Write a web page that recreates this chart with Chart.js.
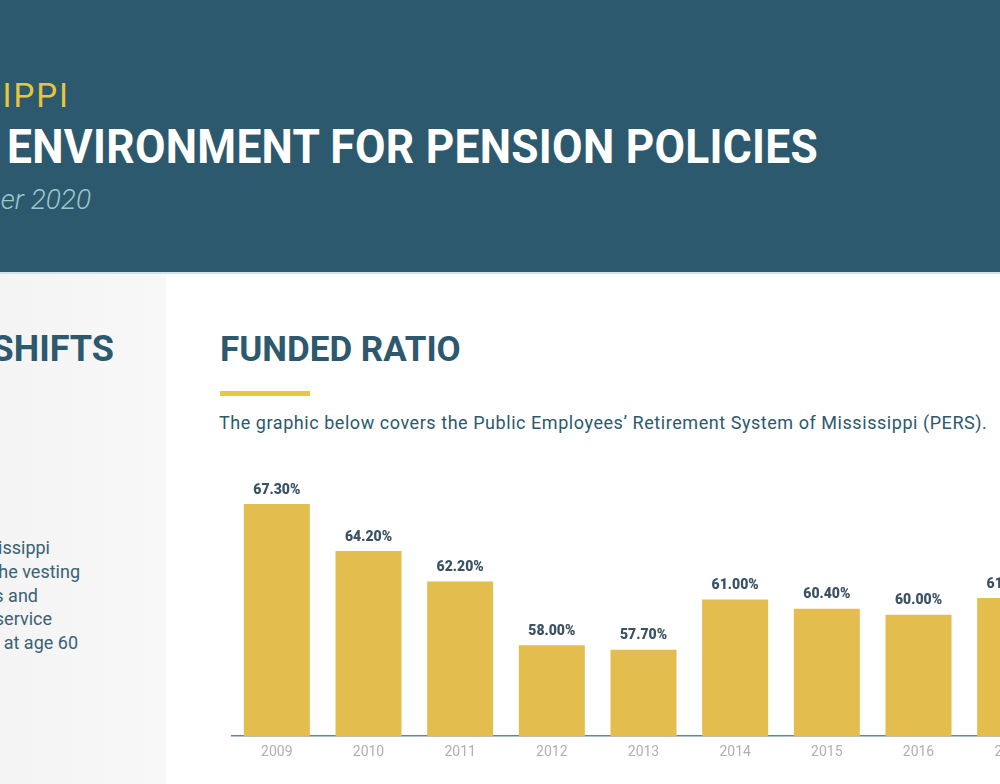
<!DOCTYPE html>
<html>
<head>
<meta charset="utf-8">
<script src="https://cdn.jsdelivr.net/npm/chart.js@4.4.1/dist/chart.umd.min.js"></script>
<style>
  html, body { margin: 0; padding: 0; }
  body {
    width: 1000px; height: 784px; overflow: hidden; position: relative;
    background: #ffffff; font-family: Roboto, "Noto Sans", sans-serif;
  }
  .header {
    position: absolute; left: 0; top: 0; width: 1000px; height: 272px;
    background: #2c596d; border-bottom: 2px solid #cfe3e8;
  }
  .r { position: absolute; white-space: nowrap; text-align: right; }
  .state { right: 930px; top: 76px; font-size: 33px; color: #e8c53b; letter-spacing: 2px; font-weight: 400; }
  .title {
    right: 182px; top: 118px; font-size: 48px; color: #ffffff; font-weight: 700; letter-spacing: 0.3px;
    transform: scaleX(0.923); transform-origin: right center;
  }
  .date { right: 909px; top: 183px; font-size: 28px; color: #9cc8cc; font-style: italic; font-weight: 300; }
  .side {
    position: absolute; left: 0; top: 274px; width: 166px; height: 510px;
    background: linear-gradient(to right, #f4f4f4, #f8f8f8);
  }
  .shifts { right: 886px; top: 328px; font-size: 36px; color: #2c596d; font-weight: 700; }
  .side-line { font-size: 18px; color: #3a6174; }
  .h2 { position: absolute; left: 220px; top: 329px; font-size: 35px; color: #2c596d; font-weight: 700; white-space: nowrap; }
  .bar-accent { position: absolute; left: 220px; top: 391px; width: 90px; height: 5px; background: #ecc640; }
  .desc { position: absolute; left: 219px; top: 412px; font-size: 18px; color: #2c596d; white-space: nowrap; letter-spacing: 0.55px; }
  .chart-box { position: absolute; left: 231px; top: 460px; width: 825px; height: 309px; }
</style>
</head>
<body>
<div class="header">
  <div class="r state">MISSISSIPPI</div>
  <div class="r title">THE POLITICAL ENVIRONMENT FOR PENSION POLICIES</div>
  <div class="r date">September 2020</div>
</div>
<div class="side">
</div>
<div class="r shifts">POLICY SHIFTS</div>
<div class="r side-line" style="right:950px; top:537px;">In 2012, Mississippi</div>
<div class="r side-line" style="right:920px; top:561px;">increased the vesting</div>
<div class="r side-line" style="right:962px; top:585px;">period to eight years and</div>
<div class="r side-line" style="right:948px; top:608px;">to 30 years of service</div>
<div class="r side-line" style="right:922px; top:632px;">or normal retirement at age 60</div>

<div class="h2">FUNDED RATIO</div>
<div class="bar-accent"></div>
<div class="desc">The graphic below covers the Public Employees’ Retirement System of Mississippi (PERS).</div>

<div class="chart-box"><canvas id="funded"></canvas></div>

<script>
// funded ratio of PERS, percent
const years = ['2009', '2010', '2011', '2012', '2013', '2014', '2015', '2016', '2017']
const fundedRatio = [67.3, 64.2, 62.2, 58.0, 57.7, 61.0, 60.4, 60.0, 61.1]

const barColor = '#e4bd4f'
const labelColor = '#3b5264'

// draws the "67.30%" labels above each bar
const valueLabels = {
    id: 'valueLabels',
    afterDatasetsDraw (chart) {
        const ctx = chart.ctx
        const meta = chart.getDatasetMeta(0)
        ctx.save()
        ctx.font = '900 14px Roboto, sans-serif'
        ctx.fillStyle = labelColor
        ctx.textAlign = 'center'
        ctx.textBaseline = 'bottom'
        meta.data.forEach((bar, i) => {
            ctx.fillText(fundedRatio[i].toFixed(2) + '%', bar.x, bar.y - 7)
        })
        ctx.restore()
    }
}

new Chart(document.getElementById('funded'), {
    type: 'bar',
    data: {
        labels: years,
        datasets: [{
            data: fundedRatio,
            backgroundColor: barColor,
            borderWidth: 0,
            categoryPercentage: 1,
            barPercentage: 0.72
        }]
    },
    options: {
        responsive: true,
        maintainAspectRatio: false,
        animation: false,
        layout: { padding: 0 },
        plugins: {
            legend: { display: false },
            tooltip: { enabled: false }
        },
        scales: {
            x: {
                grid: { display: false, drawTicks: false },
                border: { display: true, color: '#5f8699', width: 1.5 },
                ticks: {
                    color: '#b0b0b0',
                    padding: 8,
                    font: { family: 'Roboto, sans-serif', size: 14 }
                }
            },
            y: {
                display: false,
                min: 52,
                max: 70.2
            }
        }
    },
    plugins: [valueLabels]
})
</script>
</body>
</html>
